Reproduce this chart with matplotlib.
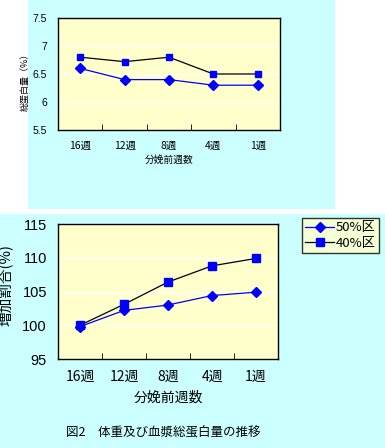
import matplotlib
matplotlib.use("Agg")
import matplotlib.pyplot as plt
from matplotlib.patches import Rectangle
import numpy as np

plt.rcParams['font.family'] = ['Noto Sans CJK JP', 'DejaVu Sans']

categories = ['16週', '12週', '8週', '4週', '1週']
protein_50 = [6.6, 6.4, 6.4, 6.3, 6.3]
protein_40 = [6.8, 6.72, 6.8, 6.5, 6.5]
gain_50 = [99.8, 102.2, 103.0, 104.4, 104.9]
gain_40 = [100.0, 103.1, 106.4, 108.8, 109.9]
series_labels = ['50%区', '40%区']

W, H = 385, 448
fig = plt.figure(figsize=(W / 100, H / 100), dpi=100, facecolor='white')
cyan = '#CCFFFF'
bg = fig.add_axes([0, 0, 1, 1], zorder=-10)
bg.set_xlim(0, W)
bg.set_ylim(H, 0)
bg.axis('off')
bg.add_patch(Rectangle((28, 0), 335 - 28, 209, facecolor=cyan, edgecolor='none'))
bg.add_patch(Rectangle((0, 214), W, H - 214, facecolor=cyan, edgecolor='none'))

def ax_rect(x0, y0, x1, y1):
    return [x0 / W, 1 - y1 / H, (x1 - x0) / W, (y1 - y0) / H]

x = list(range(len(categories)))
blue = '#0000FF'

def style(ax, ylim, step, fs, yfs):
    ax.set_facecolor('#FFFFCC')
    ax.set_xlim(-0.5, len(categories) - 0.5)
    ax.set_ylim(*ylim)
    ticks = np.arange(ylim[0], ylim[1] + step / 2, step)
    ax.set_yticks(ticks)
    ax.set_yticklabels([('%g' % t) for t in ticks], fontsize=yfs, family=['Liberation Sans', 'DejaVu Sans'])
    for t in ticks[1:-1]:
        ax.axhline(t, color='white', lw=1, zorder=1)
    ax.set_xticks(x)
    ax.set_xticklabels(categories, fontsize=fs)
    ax.set_xticks([i + 0.5 for i in x[:-1]], minor=True)
    ax.tick_params(axis='x', which='major', length=0, pad=8)
    ax.tick_params(axis='x', which='minor', length=4, direction='in', color='black')
    ax.tick_params(axis='y', which='major', length=0, pad=8)
    for s in ax.spines.values():
        s.set_color('black')
        s.set_linewidth(1)

# top panel
ax1 = fig.add_axes(ax_rect(58, 18, 280, 130))
style(ax1, (5.5, 7.5), 0.5, 7.5, 7.5)
ax1.plot(x, protein_40, color='black', lw=0.9, marker='s', ms=5, mfc=blue, mec=blue, zorder=3)
ax1.plot(x, protein_50, color=blue, lw=0.9, marker='D', ms=5, mfc=blue, mec=blue, zorder=3)
ax1.set_ylabel('総蛋白量（%）', fontsize=6.5)
ax1.yaxis.set_label_coords((31 - 58) / 222, 0.45)
ax1.set_xlabel('分娩前週数', fontsize=7, labelpad=3)

# bottom panel
ax2 = fig.add_axes(ax_rect(58, 224, 278, 359))
style(ax2, (95, 115), 5, 10, 10.5)
l50, = ax2.plot(x, gain_50, color=blue, lw=0.9, marker='D', ms=5.5, mfc=blue, mec=blue, zorder=3)
l40, = ax2.plot(x, gain_40, color='black', lw=0.9, marker='s', ms=5.5, mfc=blue, mec=blue, zorder=3)
ax2.set_ylabel('増加割合(%)', fontsize=10.5)
ax2.yaxis.set_label_coords((14 - 58) / 220, 0.55)
ax2.set_xlabel('分娩前週数', fontsize=10, labelpad=5)

leg = fig.legend([l50, l40], series_labels, loc='upper left',
                 bbox_to_anchor=(302 / W, 1 - 218 / H), fontsize=9.5,
                 frameon=True, fancybox=False, handlelength=2.2, handletextpad=0.1,
                 borderpad=0.25, labelspacing=0.2, borderaxespad=0)
leg.get_frame().set_facecolor('#FFFFCC')
leg.get_frame().set_edgecolor('black')
leg.get_frame().set_linewidth(1)

fig.text(163 / W, 1 - 432 / H, '図2　体重及び血漿総蛋白量の推移', fontsize=9, ha='center', va='center')

fig.savefig('out.png', dpi=100, facecolor='white')
